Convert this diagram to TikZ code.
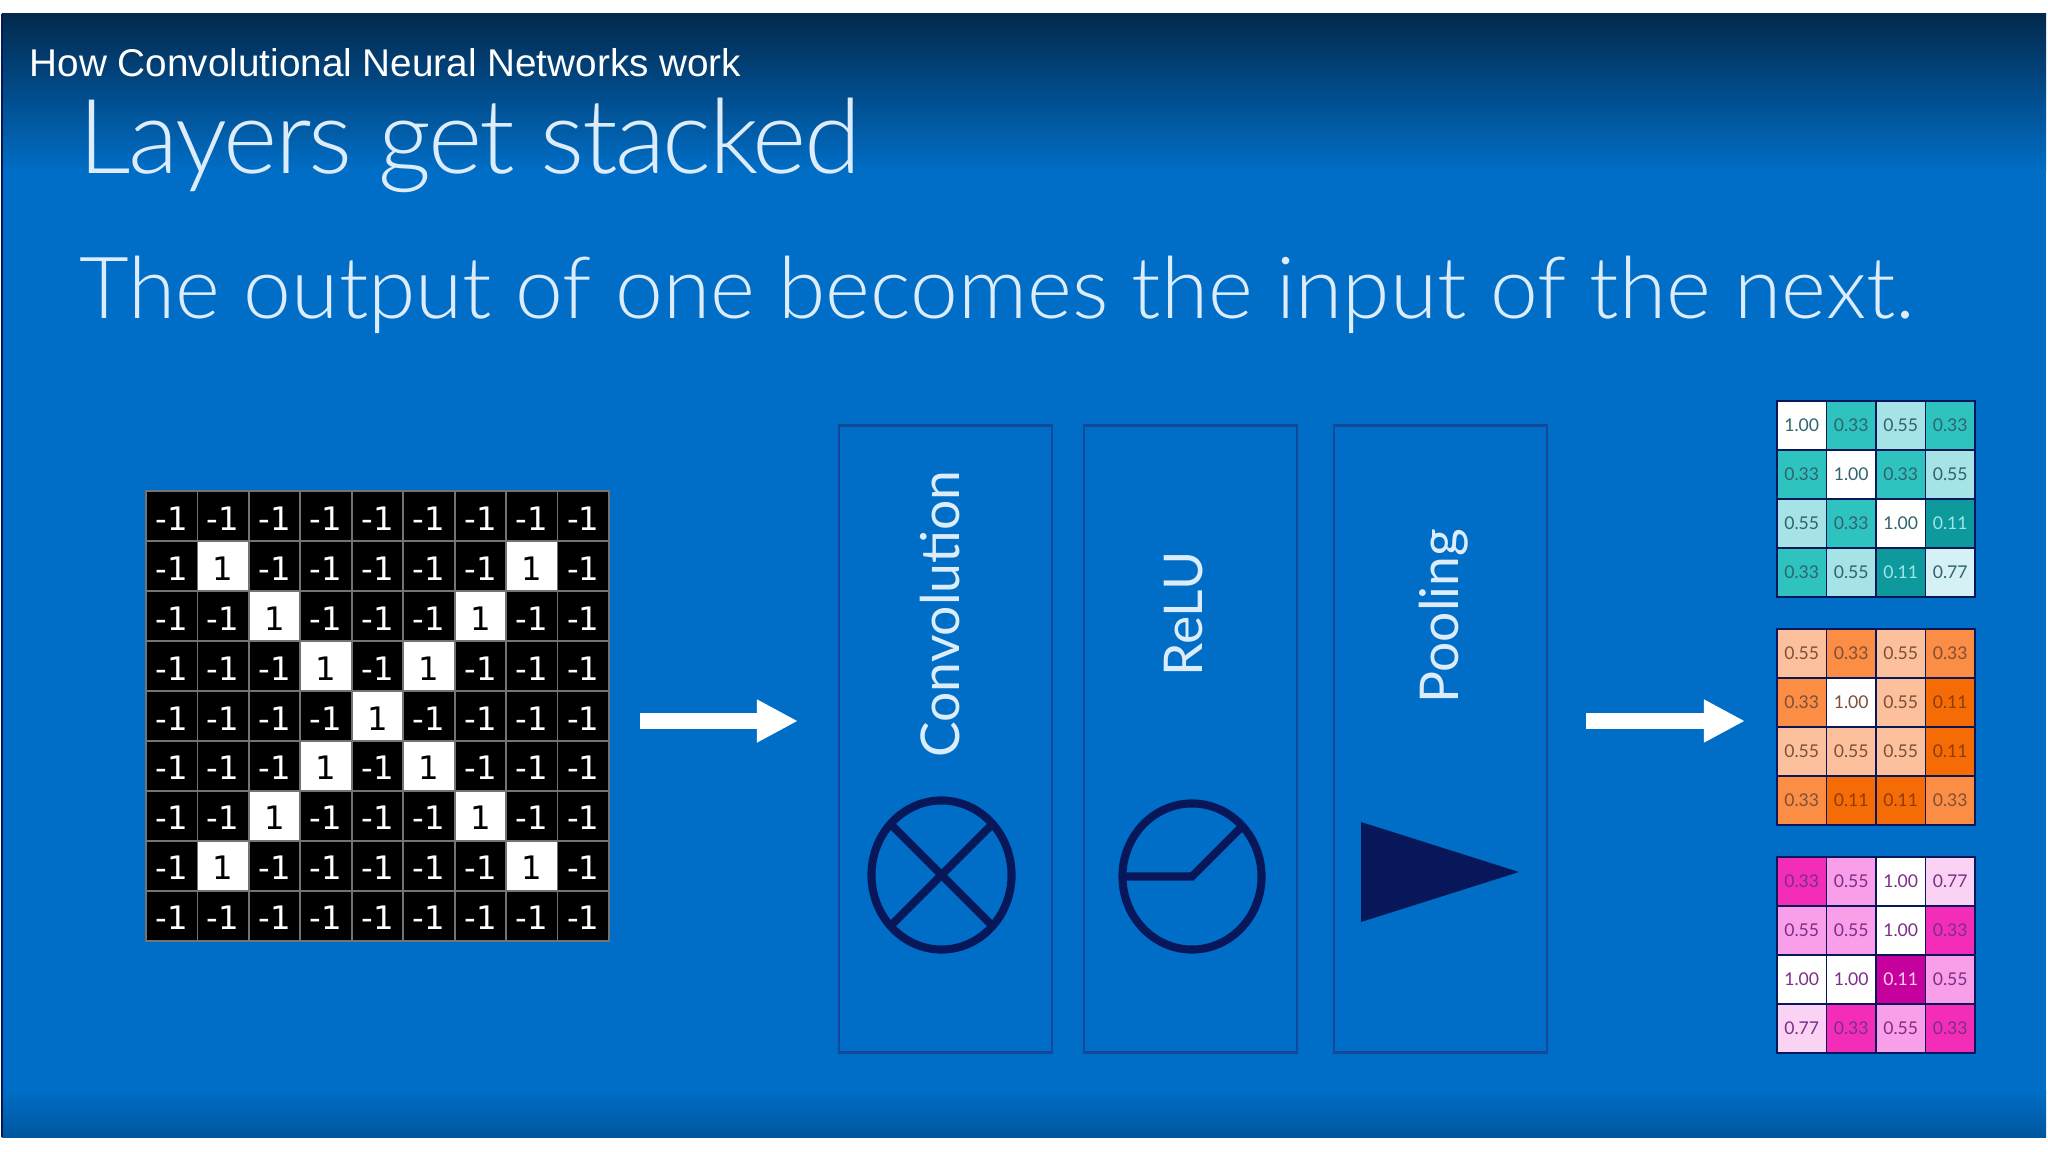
\documentclass[tikz,border=0pt]{standalone}
\usepackage{fontspec}
\setmainfont{Lato}
\newfontfamily\thinfont{Lato Light}
\newfontfamily\tightfont{Lato Light}[LetterSpace=-2.5]
\newfontfamily\headfont{Liberation Sans}
\newfontfamily\gridfont{DejaVu Sans}
\usetikzlibrary{matrix,arrows.meta,shapes.geometric}

\definecolor{navy}{HTML}{08175A}
\definecolor{bgtop}{HTML}{03294D}
\definecolor{bgmid}{HTML}{006EC6}
\definecolor{bgend}{HTML}{00569E}
\definecolor{panelline}{HTML}{14489A}
\definecolor{pale}{HTML}{DCECFA}
\definecolor{teal100}{HTML}{FFFFFF}
\definecolor{teal77}{HTML}{D6F1F6}
\definecolor{teal55}{HTML}{A6E3E6}
\definecolor{teal33}{HTML}{2FC3C0}
\definecolor{teal11}{HTML}{0E9A9C}
\definecolor{tealink}{HTML}{2F646E}
\definecolor{teallow}{HTML}{9FE6EA}
\definecolor{orange100}{HTML}{FFFFFF}
\definecolor{orange55}{HTML}{FCC19C}
\definecolor{orange33}{HTML}{FB8D45}
\definecolor{orange11}{HTML}{F56C06}
\definecolor{orangeink}{HTML}{7E5038}
\definecolor{orangelow}{HTML}{8E3C08}
\definecolor{pink100}{HTML}{FFFFFF}
\definecolor{pink77}{HTML}{FAD2F4}
\definecolor{pink55}{HTML}{F99FEA}
\definecolor{pink33}{HTML}{F42DB8}
\definecolor{pink11}{HTML}{C6009C}
\definecolor{pinkink}{HTML}{7C2E86}
\definecolor{pinklow}{HTML}{FBD0F0}

\tikzset{
    panel/.style={draw=panelline, line width=0.8pt, minimum width=2.13cm, minimum height=6.26cm, inner sep=0pt, outer sep=0pt},
    panellabel/.style={rotate=90, text=pale, font=\fontsize{15.2}{15.2}\selectfont, inner sep=0pt},
    icon/.style={draw=navy, line width=2.3pt, ellipse, inner sep=0pt, outer sep=0pt},
    iconline/.style={draw=navy, line width=2.3pt},
    bigarrow/.style={draw=white, line width=4.3pt, -{Triangle[length=0.41cm, width=0.4cm]}},
    bigtitle/.style={anchor=base west, text=pale, inner sep=0pt},
    cellbox/.style={draw=black!55, fill=black, text=white, minimum width=0.5145cm, minimum height=0.4995cm, inner sep=0pt, outer sep=0pt, line width=0.45pt, anchor=center, text height=0.28cm, text depth=0pt, font=\gridfont\fontsize{9.2}{9.2}\selectfont},
    onecell/.style={fill=white, text=black},
    heatcell/.style={draw=navy, line width=0.5pt, minimum size=0.493cm, inner sep=0pt, outer sep=0pt, font=\fontsize{5}{5}\selectfont}
}

\begin{document}
\begin{tikzpicture}[x=0.01cm, y=-0.01cm]
    \useasboundingbox (0,0) rectangle (2048,1152);
    \fill[white] (0,0) rectangle (2048,1152);
    \fill[bgmid] (2,170) rectangle (2046,1090);
    \shade[top color=bgtop, bottom color=bgmid] (2,14) rectangle (2046,171);
    \shade[top color=bgmid, bottom color=bgend] (2,1090) rectangle (2046,1137);
    \draw[navy, line width=0.5pt] (2,14) -- (2,1137);

    % titles
    \node[anchor=base west, text=white, inner sep=0pt, font=\headfont\fontsize{11}{11}\selectfont] (howto) at (29,77) {How Convolutional Neural Networks work};
    \node[bigtitle, font=\tightfont\fontsize{29.5}{29.5}\selectfont] (layers) at (78,174) {Layers get stacked};
    \node[bigtitle, font=\thinfont\fontsize{24.4}{24.4}\selectfont] (output) at (79,319) {The output of one becomes the input of the next.};

    % input image
    \node[matrix of nodes, inner sep=0pt, outer sep=0pt, column sep=-0.45pt, row sep=-0.45pt, nodes={cellbox}] (img) at (377.5,716) {
        -1 & -1 & -1 & -1 & -1 & -1 & -1 & -1 & -1\\
        -1 & |[onecell]| 1 & -1 & -1 & -1 & -1 & -1 & |[onecell]| 1 & -1\\
        -1 & -1 & |[onecell]| 1 & -1 & -1 & -1 & |[onecell]| 1 & -1 & -1\\
        -1 & -1 & -1 & |[onecell]| 1 & -1 & |[onecell]| 1 & -1 & -1 & -1\\
        -1 & -1 & -1 & -1 & |[onecell]| 1 & -1 & -1 & -1 & -1\\
        -1 & -1 & -1 & |[onecell]| 1 & -1 & |[onecell]| 1 & -1 & -1 & -1\\
        -1 & -1 & |[onecell]| 1 & -1 & -1 & -1 & |[onecell]| 1 & -1 & -1\\
        -1 & |[onecell]| 1 & -1 & -1 & -1 & -1 & -1 & |[onecell]| 1 & -1\\
        -1 & -1 & -1 & -1 & -1 & -1 & -1 & -1 & -1\\
    };

    % layers
    \node[panel] (conv) at (945.5,739) {};
    \node[panel] (relu) at (1190.5,739) {};
    \node[panel] (pool) at (1440.5,739) {};
    \node[panellabel] (convlabel) at (940,614) {Convolution};
    \node[panellabel] (relulabel) at (1184,614) {ReLU};
    \node[panellabel] (poollabel) at (1444,616) {Pooling};

    \node[icon, minimum width=1.4cm, minimum height=1.49cm] (convicon) at (941.5,875) {};
    \draw[iconline] (convicon.45) to (convicon.225);
    \draw[iconline] (convicon.135) to (convicon.315);
    \node[icon, minimum width=1.39cm, minimum height=1.46cm] (reluicon) at (1192,876.5) {};
    \draw[iconline] (reluicon.180) to (reluicon.center) to (reluicon.45);
    \fill[navy] (1361,822) -- (1519,872) -- (1361,922) -- cycle;

    % arrows
    \coordinate (h1) at (640,721);
    \coordinate (h2) at (798,721);
    \coordinate (h3) at (1586,721);
    \coordinate (h4) at (1745,721);
    \draw[bigarrow] (h1) to (h2);
    \draw[bigarrow] (h3) to (h4);

    % output maps
    \foreach \g/\gy/\vals in {
        teal/401/{1.00,0.33,0.55,0.33,0.33,1.00,0.33,0.55,0.55,0.33,1.00,0.11,0.33,0.55,0.11,0.77},
        orange/629/{0.55,0.33,0.55,0.33,0.33,1.00,0.55,0.11,0.55,0.55,0.55,0.11,0.33,0.11,0.11,0.33},
        pink/857/{0.33,0.55,1.00,0.77,0.55,0.55,1.00,0.33,1.00,1.00,0.11,0.55,0.77,0.33,0.55,0.33}}
    {
        \foreach \v [count=\i from 0] in \vals {
            \pgfmathtruncatemacro\pct{round(\v*100)}
            \pgfmathtruncatemacro\col{mod(\i,4)}
            \pgfmathtruncatemacro\row{div(\i,4)}
            \ifnum\pct=11 \def\ink{\g low}\else\def\ink{\g ink}\fi
            \node[heatcell, fill=\g\pct, text=\ink] (\g\i) at ({1777+49.5*(\col+.5)},{\gy+49*(\row+.5)}) {\v};
        }
    }
\end{tikzpicture}
\end{document}
